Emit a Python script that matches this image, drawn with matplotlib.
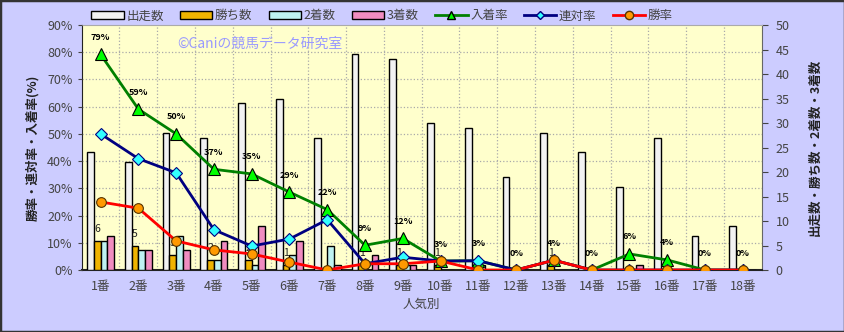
import numpy as np
import matplotlib
matplotlib.use("Agg")
import matplotlib.pyplot as plt
from matplotlib.patches import Rectangle
from matplotlib.lines import Line2D

plt.rcParams["font.family"] = ["Noto Sans CJK JP", "DejaVu Sans"]

# 人気別データ
categories = [f"{i}番" for i in range(1, 19)]
starts = [24, 22, 28, 27, 34, 35, 27, 44, 43, 30, 29, 19, 28, 24, 17, 27, 7, 9]
wins = [6, 5, 3, 2, 2, 1, 0, 1, 1, 1, 0, 0, 1, 0, 0, 0, 0, 0]
seconds = [6, 4, 7, 2, 1, 3, 5, 0, 1, 0, 1, 0, 0, 0, 0, 0, 0, 0]
thirds = [7, 4, 4, 6, 9, 6, 1, 3, 1, 0, 0, 0, 0, 0, 1, 0, 0, 0]
place_rate = [79.2, 59.1, 50.0, 37.0, 35.3, 28.6, 22.2, 9.1, 11.6, 3.3, 3.4, 0, 3.6, 0, 5.9, 3.7, 0, 0]
rentai_rate = [50.0, 40.9, 35.7, 14.8, 8.8, 11.4, 18.5, 2.3, 4.7, 3.3, 3.4, 0, 3.6, 0, 0, 0, 0, 0]
win_rate = [25.0, 22.7, 10.7, 7.4, 5.9, 2.9, 0, 2.3, 2.3, 3.3, 0, 0, 3.6, 0, 0, 0, 0, 0]

x = np.arange(len(categories))
w = 0.178

fig = plt.figure(figsize=(8.45, 3.32), dpi=100, facecolor="#CCCCFF")
fig.patches.append(Rectangle((0, 0), 1, 1, transform=fig.transFigure, fill=False,
                             edgecolor="#333333", linewidth=2.5))
ax = fig.add_axes([0.0967, 0.1867, 0.8047, 0.738])
ax2 = ax.twinx()

# 背景とグリッドは件数軸側に描く
ax2.patch.set_visible(True)
ax2.set_facecolor("#FFFFCC")
ax.set_zorder(ax2.get_zorder() + 1)
ax.patch.set_visible(False)

ax2.bar(x - 1.5 * w, starts, w, color="#F2F2F2", edgecolor="black", linewidth=1, zorder=3)
ax2.bar(x - 0.5 * w, wins, w, color="#F0B400", edgecolor="black", linewidth=1, zorder=3)
ax2.bar(x + 0.5 * w, seconds, w, color="#BFF2F2", edgecolor="black", linewidth=1, zorder=3)
ax2.bar(x + 1.5 * w, thirds, w, color="#F08CC0", edgecolor="black", linewidth=1, zorder=3)
for xi, v in zip(x, wins):
    if v > 0:
        ax2.annotate(str(v), (xi - 0.5 * w, v), xytext=(0, 5), textcoords="offset points",
                     ha="center", va="bottom", fontsize=7.5, color="#222222", zorder=4)

ax.plot(x, place_rate, color="#008000", linewidth=2, marker="^", markersize=9,
        markerfacecolor="#00FF00", markeredgecolor="black", markeredgewidth=0.8)
ax.plot(x, rentai_rate, color="#000080", linewidth=2, marker="D", markersize=6,
        markerfacecolor="#33FFFF", markeredgecolor="#000080", markeredgewidth=0.8)
ax.plot(x, win_rate, color="#FF0000", linewidth=2, marker="o", markersize=7,
        markerfacecolor="#FF9900", markeredgecolor="#553300", markeredgewidth=0.8)
for xi, v in zip(x, place_rate):
    ax.annotate(f"{v:.0f}%", (xi, v), xytext=(0, 9), textcoords="offset points",
                ha="center", va="bottom", fontsize=6.5, fontweight="bold", color="black")

ax.set_xlim(-0.5, len(categories) - 0.5)
ax.set_ylim(0, 90)
ax2.set_ylim(0, 50)
ax.set_yticks(np.arange(0, 91, 10))
ax.set_yticklabels([f"{v}%" for v in range(0, 91, 10)])
ax2.set_yticks(np.arange(0, 51, 5))
ax.set_xticks(x)
ax.set_xticklabels(categories)

# グリッド(％軸に合わせる)
ax2.set_yticks(np.arange(10, 90, 10) * 50 / 90, minor=True)
ax2.grid(True, axis="y", which="minor", color="#AAAAAA", linestyle=":", linewidth=0.9, zorder=0)
ax2.tick_params(axis="y", which="minor", length=0)
for b in x[:-1] + 0.5:
    ax2.axvline(b, color="#AAAAAA", linestyle=":", linewidth=0.9, zorder=0)
ax2.set_axisbelow(True)

for a in (ax, ax2):
    for s in a.spines.values():
        s.set_visible(False)
ax2.spines["left"].set_visible(True)
ax2.spines["left"].set_color("#222222")
ax2.spines["right"].set_visible(True)
ax2.spines["right"].set_color("#666666")
ax2.spines["bottom"].set_visible(True)
ax2.spines["bottom"].set_color("#222222")
ax2.spines["bottom"].set_linewidth(1.5)
ax2.spines["top"].set_visible(True)
ax2.spines["top"].set_color("#AAAAAA")

ax.tick_params(axis="y", labelsize=9, colors="#444444", length=3)
ax2.tick_params(axis="y", which="major", labelsize=9, colors="#444444", length=4, pad=6)
ax.tick_params(axis="x", labelsize=9, colors="#444444", length=0, pad=7)

ax.set_xlabel("人気別", fontsize=9, color="#444444", labelpad=4)
ax.set_ylabel("勝率・連対率・入着率(%)", fontsize=9, fontweight="bold", color="#222222", labelpad=6)
ax2.set_ylabel("出走数・勝ち数・2着数・3着数", fontsize=9, fontweight="bold", color="#222222", labelpad=14)

ax.text(0.14, 0.925, "©Caniの競馬データ研究室", transform=ax.transAxes, fontsize=10,
        color="#9999FF", ha="left", va="center")

handles = [
    Rectangle((0, 0), 1, 1, facecolor="#F2F2F2", edgecolor="black"),
    Rectangle((0, 0), 1, 1, facecolor="#F0B400", edgecolor="black"),
    Rectangle((0, 0), 1, 1, facecolor="#BFF2F2", edgecolor="black"),
    Rectangle((0, 0), 1, 1, facecolor="#F08CC0", edgecolor="black"),
    Line2D([], [], color="#008000", linewidth=2, marker="^", markersize=6,
           markerfacecolor="#00FF00", markeredgecolor="black"),
    Line2D([], [], color="#000080", linewidth=2, marker="D", markersize=4,
           markerfacecolor="#33FFFF", markeredgecolor="#000080"),
    Line2D([], [], color="#FF0000", linewidth=2, marker="o", markersize=6,
           markerfacecolor="#FF9900", markeredgecolor="#553300"),
]
labels = ["出走数", "勝ち数", "2着数", "3着数", "入着率", "連対率", "勝率"]
leg = fig.legend(handles, labels, loc="center", bbox_to_anchor=(0.452, 0.952), ncol=7,
                 frameon=False, fontsize=9, handlelength=2.6, handleheight=0.5,
                 columnspacing=1.3, handletextpad=0.2)
for t in leg.get_texts():
    t.set_color("#444444")

fig.savefig("out.png", dpi=100, facecolor=fig.get_facecolor())
